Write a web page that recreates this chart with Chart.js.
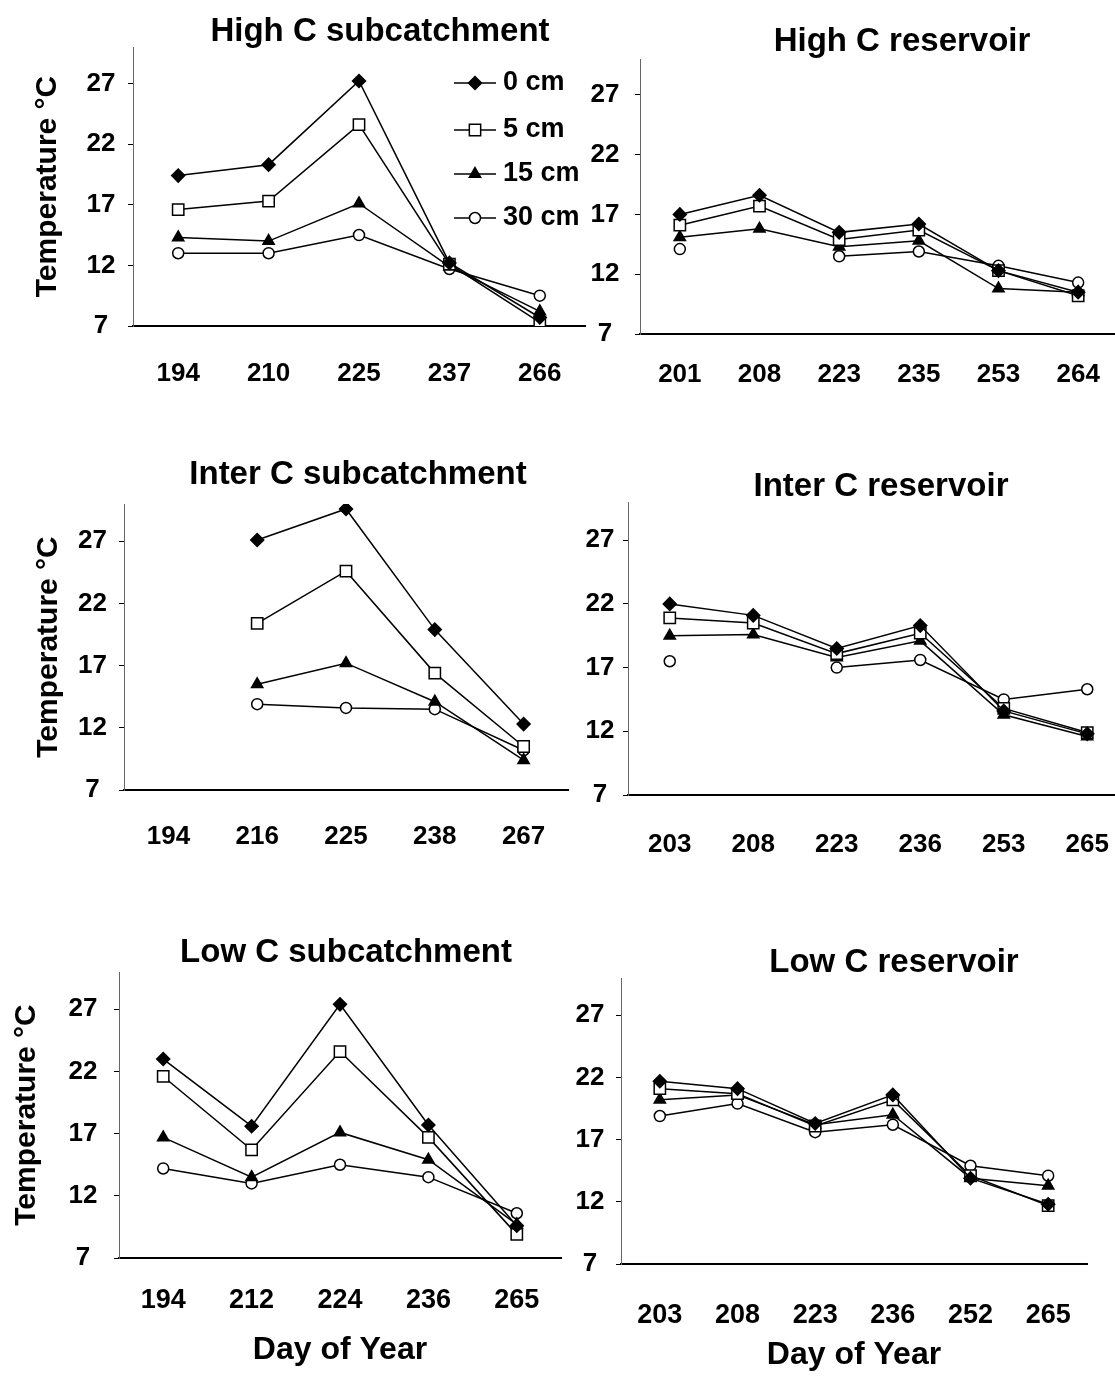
<!DOCTYPE html>
<html>
<head>
<meta charset="utf-8">
<script src="https://cdn.jsdelivr.net/npm/chart.js@4.4.1/dist/chart.umd.min.js"></script>
<style>
body { margin: 0; width: 1115px; height: 1380px; overflow: hidden; background: #fff; position: relative; }
.panel { position: absolute; }
</style>
</head>
<body>
<div class="panel" style="left:0;top:0;width:600px;height:420px"><canvas id="hcsub"></canvas></div>
<div class="panel" style="left:570px;top:0;width:560px;height:420px"><canvas id="hcres"></canvas></div>
<div class="panel" style="left:0;top:420px;width:580px;height:460px"><canvas id="icsub"></canvas></div>
<div class="panel" style="left:570px;top:420px;width:570px;height:460px"><canvas id="icres"></canvas></div>
<div class="panel" style="left:0;top:900px;width:575px;height:480px"><canvas id="lcsub"></canvas></div>
<div class="panel" style="left:570px;top:900px;width:530px;height:480px"><canvas id="lcres"></canvas></div>
<script>
// Data

const yTicks = [7, 12, 17, 22, 27];
const depths = ['0 cm', '5 cm', '15 cm', '30 cm'];

// High C subcatchment
const hcSubDays = ['194', '210', '225', '237', '266'];
const hcSub0  = [19.4, 20.3, 27.2, 12.2, 7.7];
const hcSub5  = [16.6, 17.3, 23.6, 12.1, 7.3];
const hcSub15 = [14.3, 14.0, 17.1, 11.9, 8.2];
const hcSub30 = [13.0, 13.0, 14.5, 11.7, 9.5];

// High C reservoir
const hcResDays = ['201', '208', '223', '235', '253', '264'];
const hcRes0  = [17.0, 18.6, 15.5, 16.2, 12.3, 10.5];
const hcRes5  = [16.1, 17.7, 14.9, 15.7, 12.3, 10.2];
const hcRes15 = [15.1, 15.8, 14.3, 14.8, 10.8, 10.5];
const hcRes30 = [14.1, null, 13.5, 13.9, 12.7, 11.3];

// Inter C subcatchment
const icSubDays = ['194', '216', '225', '238', '267'];
const icSub0  = [null, 27.1, 29.6, 19.9, 12.3];
const icSub5  = [null, 20.4, 24.6, 16.4, 10.5];
const icSub15 = [null, 15.5, 17.2, 14.1, 9.4];
const icSub30 = [null, 13.9, 13.6, 13.5, 10.2];

// Inter C reservoir
const icResDays = ['203', '208', '223', '236', '253', '265'];
const icRes0  = [22.0, 21.1, 18.5, 20.3, 13.6, 11.8];
const icRes5  = [20.9, 20.5, 18.1, 19.7, 13.8, 11.9];
const icRes15 = [19.5, 19.6, 17.8, 19.1, 13.3, 11.6];
const icRes30 = [17.5, null, 17.0, 17.6, 14.5, 15.3];

// Low C subcatchment
const lcSubDays = ['194', '212', '224', '236', '265'];
const lcSub0  = [23.0, 17.6, 27.4, 17.7, 9.6];
const lcSub5  = [21.6, 15.7, 23.6, 16.7, 8.9];
const lcSub15 = [16.7, 13.5, 17.1, 14.9, 9.7];
const lcSub30 = [14.2, 13.0, 14.5, 13.5, 10.6];

// Low C reservoir
const lcResDays = ['203', '208', '223', '236', '252', '265'];
const lcRes0  = [21.7, 21.1, 18.3, 20.6, 13.9, 11.8];
const lcRes5  = [21.1, 20.7, 18.1, 20.2, 14.1, 11.7];
const lcRes15 = [20.2, 20.6, 18.2, 19.0, 13.9, 13.3];
const lcRes30 = [18.9, 19.9, 17.6, 18.2, 14.9, 14.1];

// Styles

const FONT = "'Liberation Sans', Arial, sans-serif";
Chart.defaults.font.family = FONT;
Chart.defaults.color = '#000';

const markers = ['rectRot', 'rect', 'triangle', 'circle'];
const markerFill = ['#000', '#fff', '#000', '#fff'];
const markerSize = [6.5, 8, 6.5, 5.5];

function build_datasets(series) {
	return series.map(function(data, i) {
		return {
			label: depths[i],
			data: data,
			borderColor: '#000',
			borderWidth: 1.5,
			pointStyle: markers[i],
			pointRadius: markerSize[i],
			pointBackgroundColor: markerFill[i],
			pointBorderColor: '#000',
			pointBorderWidth: 1.5,
			spanGaps: false
		};
	});
}

// Panel title, placed where the original puts it (not centred on the plot)
const panelTitle = {
	id: 'panelTitle',
	afterDraw(chart, args, opts) {
		const ctx = chart.ctx;
		ctx.save();
		ctx.font = 'bold 33px ' + FONT;
		ctx.fillStyle = '#000';
		ctx.textAlign = 'center';
		ctx.textBaseline = 'middle';
		ctx.fillText(opts.text, opts.x, opts.y);
		ctx.restore();
	}
};

// Legend with line + marker, like the original
const depthLegend = {
	id: 'depthLegend',
	afterDraw(chart) {
		const ctx = chart.ctx;
		const ys = [83, 130, 174, 218];
		ctx.save();
		chart.data.datasets.forEach(function(ds, i) {
			const y = ys[i];
			ctx.strokeStyle = '#000';
			ctx.lineWidth = 1.5;
			ctx.beginPath();
			ctx.moveTo(454, y);
			ctx.lineTo(496, y);
			ctx.stroke();
			ctx.fillStyle = ds.pointBackgroundColor;
			Chart.helpers.drawPoint(ctx, {pointStyle: ds.pointStyle, radius: ds.pointRadius, borderWidth: 1.5, rotation: 0}, 475, y);
			ctx.fillStyle = '#000';
			ctx.font = 'bold 27px ' + FONT;
			ctx.textBaseline = 'middle';
			ctx.textAlign = 'left';
			ctx.fillText(ds.label, 503, y);
		});
		ctx.restore();
	}
};

function make_panel(id, p) {
	const plugins = [panelTitle];
	if (p.legend) plugins.push(depthLegend);

	new Chart(id, {
		type: 'line',
		data: {
			labels: p.days,
			datasets: build_datasets(p.series)
		},
		options: {
			responsive: true,
			maintainAspectRatio: false,
			animation: false,
			layout: {padding: {left: 0, right: p.padRight, top: p.padTop, bottom: 0}},
			plugins: {
				legend: {display: false},
				tooltip: {enabled: false},
				title: {display: false},
				panelTitle: {text: p.title, x: p.titleX, y: p.titleY}
			},
			scales: {
				x: {
					type: 'category',
					offset: true,
					afterFit: function(s) { s.height = p.xH; },
					grid: {display: false},
					border: {display: true, color: '#000', width: 2},
					ticks: {
						autoSkip: false,
						maxRotation: 0,
						padding: p.xPad,
						font: {size: p.xFont, weight: 'bold'}
					},
					title: {
						display: p.xTitlePad != null,
						text: 'Day of Year',
						font: {size: 32, weight: 'bold'},
						padding: {top: 0, bottom: p.xTitlePad || 0}
					}
				},
				y: {
					min: 7,
					max: 30,
					afterFit: function(s) { s.width = p.yW; },
					afterBuildTicks: function(s) { s.ticks = yTicks.map(function(v) { return {value: v}; }); },
					grid: {display: true, drawOnChartArea: false, drawTicks: true, tickLength: 5, color: '#000', lineWidth: 1},
					border: {display: true, color: '#666', width: 1, dash: [2, 3]},
					ticks: {
						crossAlign: 'center',
						padding: p.yPad,
						font: {size: 26, weight: 'bold'}
					},
					title: {
						display: p.yTitlePad != null,
						text: 'Temperature °C',
						font: {size: 30, weight: 'bold'},
						padding: {top: p.yTitlePad || 0, bottom: 0}
					}
				}
			}
		},
		plugins: plugins
	});
}

make_panel('hcsub', {
	title: 'High C subcatchment', titleX: 380, titleY: 32, days: hcSubDays, series: [hcSub0, hcSub5, hcSub15, hcSub30],
	yW: 133, xH: 94, padRight: 15, padTop: 47,
	yPad: 12.5, xPad: 24, xFont: 26, yTitlePad: 30, legend: true
});

make_panel('hcres', {
	title: 'High C reservoir', titleX: 332, titleY: 42, days: hcResDays, series: [hcRes0, hcRes5, hcRes15, hcRes30],
	yW: 70, xH: 86, padRight: 12, padTop: 59,
	yPad: 15.5, xPad: 17.4, xFont: 26
});

make_panel('icsub', {
	title: 'Inter C subcatchment', titleX: 358, titleY: 55, days: icSubDays, series: [icSub0, icSub5, icSub15, icSub30],
	yW: 124, xH: 90, padRight: 12, padTop: 84,
	yPad: 12, xPad: 23, xFont: 26, yTitlePad: 31
});

make_panel('icres', {
	title: 'Inter C reservoir', titleX: 311, titleY: 67, days: icResDays, series: [icRes0, icRes5, icRes15, icRes30],
	yW: 58, xH: 85, padRight: 11, padTop: 82,
	yPad: 8.5, xPad: 26, xFont: 26
});

make_panel('lcsub', {
	title: 'Low C subcatchment', titleX: 346, titleY: 53, days: lcSubDays, series: [lcSub0, lcSub5, lcSub15, lcSub30],
	yW: 119, xH: 122, padRight: 14, padTop: 72,
	yPad: 16.5, xPad: 18.4, xFont: 27, yTitlePad: 9, xTitlePad: 10.8
});

make_panel('lcres', {
	title: 'Low C reservoir', titleX: 324, titleY: 63, days: lcResDays, series: [lcRes0, lcRes5, lcRes15, lcRes30],
	yW: 51, xH: 116, padRight: 13, padTop: 78,
	yPad: 11.5, xPad: 27.4, xFont: 27, xTitlePad: 5.8
});
</script>
</body>
</html>
